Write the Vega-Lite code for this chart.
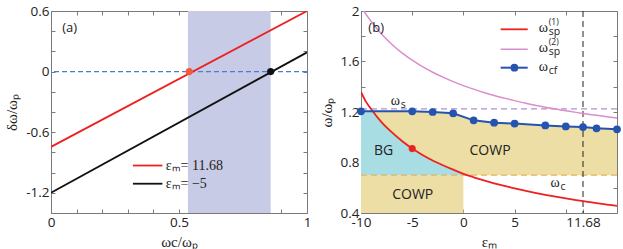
{
"$schema":"https://vega.github.io/schema/vega-lite/v6.json",
"background":"white",
"padding":{"left":4,"top":3,"right":0,"bottom":0},
"spacing":6,
"config":{
 "view":{"stroke":"#7a7a7a","strokeWidth":1},
 "axis":{"domain":false,"grid":false,"tickColor":"#7a7a7a","tickSize":-4,"tickCount":50,"labelOverlap":false,"labelFlush":false,"labelFont":"Open Sans","labelFontSize":13.5,"labelColor":"#222","labelPadding":6,"titleFont":"Liberation Serif","titleFontSize":15,"titleFontWeight":"normal","titleColor":"#222","titlePadding":6}
},
"hconcat":[
{
 "width":256,"height":202,
 "layer":[
  {"layer":[
   {"data":{"values":[{"x":0.535,"x2":0.858}]},"mark":{"type":"rect","color":"#c8cbe6"},
    "encoding":{"x":{"field":"x","type":"quantitative","scale":{"domain":[0,1],"nice":false},
      "axis":{"values":[0,0.1,0.2,0.3,0.4,0.5,0.6,0.7,0.8,0.9,1],"tickCount":50,"labelOverlap":false,"labelFlush":false,"labelExpr":"(datum.value == 0 || datum.value == 0.5 || datum.value == 1) ? format(datum.value, '~g') : ''","title":"ωc/ωₚ"}},
     "x2":{"field":"x2"}}},
   {"data":{"values":[{"y":0}]},"mark":{"type":"rule","color":"#4a7fd0","strokeDash":[5,3],"strokeWidth":1.2},
    "encoding":{"y":{"field":"y","type":"quantitative"}}},
   {"data":{"values":[{"x":0,"y":-0.745,"s":"r"},{"x":1,"y":0.6,"s":"r"},{"x":0,"y":-1.2,"s":"k"},{"x":1,"y":0.19,"s":"k"}]},
    "mark":{"type":"line","strokeWidth":1.8,"clip":true},
    "encoding":{"x":{"field":"x","type":"quantitative"},
     "y":{"field":"y","type":"quantitative","scale":{"domain":[-1.4,0.6],"nice":false},
      "axis":{"values":[-1.4,-1.2,-1,-0.8,-0.6,-0.4,-0.2,0,0.2,0.4,0.6],"tickCount":50,"labelOverlap":false,"labelExpr":"(datum.value == -1.2 || datum.value == -0.6 || datum.value == 0 || datum.value == 0.6) ? replace(format(datum.value, '~g'), '−', '-') : ''","title":"δω/ωₚ"}},
     "color":{"field":"s","type":"nominal","scale":{"domain":["r","k"],"range":["#ee2020","#111111"]},"legend":null}}},
   {"data":{"values":[{"x":0.54,"y":0}]},"mark":{"type":"point","filled":true,"size":50,"opacity":1,"color":"#f25a38"},
    "encoding":{"x":{"field":"x","type":"quantitative"},"y":{"field":"y","type":"quantitative"}}},
   {"data":{"values":[{"x":0.858,"y":0}]},"mark":{"type":"point","filled":true,"size":50,"opacity":1,"color":"#111111"},
    "encoding":{"x":{"field":"x","type":"quantitative"},"y":{"field":"y","type":"quantitative"}}},
   {"data":{"values":[{"x":0.32,"x2":0.435,"y":-0.93}]},"mark":{"type":"rule","color":"#ee2020","strokeWidth":1.8},
    "encoding":{"x":{"field":"x","type":"quantitative"},"x2":{"field":"x2"},"y":{"field":"y","type":"quantitative"}}},
   {"data":{"values":[{"x":0.32,"x2":0.435,"y":-1.11}]},"mark":{"type":"rule","color":"#111111","strokeWidth":1.8},
    "encoding":{"x":{"field":"x","type":"quantitative"},"x2":{"field":"x2"},"y":{"field":"y","type":"quantitative"}}},
   {"data":{"values":[{"x":0.448,"y":-0.93,"t":"εₘ= 11.68"},{"x":0.448,"y":-1.11,"t":"εₘ= −5"}]},
    "mark":{"type":"text","align":"left","baseline":"middle","font":"Liberation Serif","fontSize":14,"color":"#222"},
    "encoding":{"x":{"field":"x","type":"quantitative"},"y":{"field":"y","type":"quantitative"},"text":{"field":"t"}}},
   {"data":{"values":[{"x":0.044,"y":0.436,"t":"(a)"}]},
    "mark":{"type":"text","align":"left","baseline":"middle","font":"Open Sans","fontSize":13,"color":"#222"},
    "encoding":{"x":{"field":"x","type":"quantitative"},"y":{"field":"y","type":"quantitative"},"text":{"field":"t"}}}
  ]},
  {"data":{"values":[{"x":0,"y":0}]},"mark":{"type":"point","opacity":0},
   "encoding":{"x":{"field":"x","type":"quantitative","axis":{"orient":"top","values":[0,0.1,0.2,0.3,0.4,0.5,0.6,0.7,0.8,0.9,1],"tickCount":50,"labels":false,"title":null}},
    "y":{"field":"y","type":"quantitative","axis":{"orient":"right","values":[-1.4,-1.2,-1,-0.8,-0.6,-0.4,-0.2,0,0.2,0.4,0.6],"tickCount":50,"labels":false,"title":null}}}}
 ],
 "resolve":{"axis":{"x":"independent","y":"independent"}}
},
{
 "width":256,"height":202,
 "layer":[
  {"layer":[
   {"data":{"values":[{"x":-10,"x2":0,"y":0.4,"y2":0.7}]},"mark":{"type":"rect","color":"#ecdea4"},
    "encoding":{"x":{"field":"x","type":"quantitative","scale":{"domain":[-10,15],"nice":false},
      "axis":{"values":[-10,-5,0,5,10,11.68,15],"tickCount":50,"labelOverlap":false,"labelFlush":false,"labelExpr":"(datum.value == -10 || datum.value == -5 || datum.value == 0 || datum.value == 5 || datum.value == 11.68) ? replace(format(datum.value, '~g'), '−', '-') : ''","title":"εₘ"}},
     "x2":{"field":"x2"},
     "y":{"field":"y","type":"quantitative","scale":{"domain":[0.4,2],"nice":false},
      "axis":{"values":[0.4,0.6,0.8,1,1.2,1.4,1.6,1.8,2],"tickCount":50,"labelOverlap":false,"labelExpr":"(datum.value == 0.4 || datum.value == 0.8 || datum.value == 1.2 || datum.value == 1.6 || datum.value == 2) ? format(datum.value, '~g') : ''","title":"ω/ωₚ"}},
     "y2":{"field":"y2"}}},
   {"data":{"values":[{"x":-10,"y":1.205},{"x":-5,"y":1.205},{"x":-3,"y":1.2},{"x":-1,"y":1.19},{"x":1,"y":1.134},{"x":3,"y":1.115},{"x":5,"y":1.108},{"x":8,"y":1.094},{"x":10,"y":1.086},{"x":11.68,"y":1.081},{"x":13,"y":1.071},{"x":15,"y":1.063}]},
    "mark":{"type":"area","color":"#ecdea4","opacity":1},
    "encoding":{"x":{"field":"x","type":"quantitative"},"y":{"field":"y","type":"quantitative"},"y2":{"datum":0.7}}},
   {"data":{"values":[{"x":-10,"y":1.205},{"x":-8.86,"y":1.2},{"x":-8,"y":1.12},{"x":-7,"y":1.04},{"x":-6,"y":0.97},{"x":-5,"y":0.91},{"x":-4,"y":0.86},{"x":-3,"y":0.816},{"x":-2,"y":0.778},{"x":-1,"y":0.743},{"x":0,"y":0.71}]},
    "mark":{"type":"area","color":"#a8dde4","opacity":1,"interpolate":"monotone"},
    "encoding":{"x":{"field":"x","type":"quantitative"},"y":{"field":"y","type":"quantitative"},"y2":{"datum":0.7}}},
   {"data":{"values":[{"y":1.225}]},"mark":{"type":"rule","color":"#b090d0","strokeDash":[6,4],"strokeWidth":1.2},
    "encoding":{"y":{"field":"y","type":"quantitative"}}},
   {"data":{"values":[{"y":0.7}]},"mark":{"type":"rule","color":"#e8b45a","strokeDash":[6,4],"strokeWidth":1.2},
    "encoding":{"y":{"field":"y","type":"quantitative"}}},
   {"data":{"values":[{"x":11.68}]},"mark":{"type":"rule","color":"#222222","strokeDash":[6,4],"strokeWidth":1},
    "encoding":{"x":{"field":"x","type":"quantitative"}}},
   {"data":{"values":[{"x":-10,"y":2.03},{"x":-9,"y":1.917},{"x":-8,"y":1.818},{"x":-7,"y":1.737},{"x":-6,"y":1.668},{"x":-5,"y":1.61},{"x":-4,"y":1.559},{"x":-3,"y":1.515},{"x":-2,"y":1.476},{"x":-1,"y":1.441},{"x":0,"y":1.409},{"x":1,"y":1.381},{"x":2,"y":1.355},{"x":3,"y":1.331},{"x":4,"y":1.31},{"x":5,"y":1.29},{"x":6,"y":1.271},{"x":7,"y":1.254},{"x":8,"y":1.238},{"x":9,"y":1.223},{"x":10,"y":1.21},{"x":11,"y":1.197},{"x":12,"y":1.185},{"x":13,"y":1.174},{"x":14,"y":1.163},{"x":15,"y":1.153}]},
    "mark":{"type":"line","color":"#dc8ccc","strokeWidth":1.5,"interpolate":"monotone","clip":true},
    "encoding":{"x":{"field":"x","type":"quantitative"},"y":{"field":"y","type":"quantitative"}}},
   {"data":{"values":[{"x":-10,"y":1.36},{"x":-9.5,"y":1.28},{"x":-9,"y":1.222},{"x":-8,"y":1.12},{"x":-7,"y":1.04},{"x":-6,"y":0.97},{"x":-5,"y":0.91},{"x":-4,"y":0.86},{"x":-3,"y":0.816},{"x":-2,"y":0.778},{"x":-1,"y":0.743},{"x":0,"y":0.71},{"x":1,"y":0.683},{"x":2,"y":0.658},{"x":3,"y":0.635},{"x":4,"y":0.614},{"x":5,"y":0.595},{"x":6,"y":0.577},{"x":7,"y":0.56},{"x":8,"y":0.544},{"x":9,"y":0.529},{"x":10,"y":0.515},{"x":11,"y":0.502},{"x":12,"y":0.49},{"x":13,"y":0.478},{"x":14,"y":0.467},{"x":15,"y":0.456}]},
    "mark":{"type":"line","color":"#ee2020","strokeWidth":1.8,"interpolate":"monotone","clip":true},
    "encoding":{"x":{"field":"x","type":"quantitative"},"y":{"field":"y","type":"quantitative"}}},
   {"data":{"values":[{"x":-10,"y":1.205},{"x":-5,"y":1.205},{"x":-3,"y":1.2},{"x":-1,"y":1.19},{"x":1,"y":1.134},{"x":3,"y":1.115},{"x":5,"y":1.108},{"x":8,"y":1.094},{"x":10,"y":1.086},{"x":11.68,"y":1.081},{"x":13,"y":1.071},{"x":15,"y":1.063}]},
    "mark":{"type":"line","color":"#2553b0","strokeWidth":2,"point":{"filled":true,"size":60,"color":"#2553b0","opacity":1}},
    "encoding":{"x":{"field":"x","type":"quantitative"},"y":{"field":"y","type":"quantitative"}}},
   {"data":{"values":[{"x":-5,"y":0.91}]},"mark":{"type":"point","filled":true,"size":50,"opacity":1,"color":"#ee2020"},
    "encoding":{"x":{"field":"x","type":"quantitative"},"y":{"field":"y","type":"quantitative"}}},
   {"data":{"values":[{"x":-7.8,"y":0.89,"t":"BG"},{"x":2.6,"y":0.89,"t":"COWP"},{"x":-4.95,"y":0.54,"t":"COWP"}]},
    "mark":{"type":"text","align":"center","baseline":"middle","font":"Open Sans","fontSize":14,"color":"#222"},
    "encoding":{"x":{"field":"x","type":"quantitative"},"y":{"field":"y","type":"quantitative"},"text":{"field":"t"}}},
   {"data":{"values":[{"x":-9.28,"y":1.868,"t":"(b)"}]},
    "mark":{"type":"text","align":"left","baseline":"middle","font":"Open Sans","fontSize":13,"color":"#222"},
    "encoding":{"x":{"field":"x","type":"quantitative"},"y":{"field":"y","type":"quantitative"},"text":{"field":"t"}}},
   {"data":{"values":[{"x":-7.1,"y":1.285,"t":"ω"},{"x":8.5,"y":0.635,"t":"ω"},{"x":7.36,"y":1.862,"t":"ω"},{"x":7.36,"y":1.705,"t":"ω"},{"x":7.36,"y":1.56,"t":"ω"}]},
    "mark":{"type":"text","align":"left","baseline":"middle","font":"Liberation Serif","fontSize":14,"color":"#222"},
    "encoding":{"x":{"field":"x","type":"quantitative"},"y":{"field":"y","type":"quantitative"},"text":{"field":"t"}}},
   {"data":{"values":[{"x":-7.1,"y":1.285,"t":"s"},{"x":8.5,"y":0.635,"t":"c"},{"x":7.36,"y":1.862,"t":"sp"},{"x":7.36,"y":1.705,"t":"sp"},{"x":7.36,"y":1.56,"t":"cf"}]},
    "mark":{"type":"text","align":"left","baseline":"middle","font":"Open Sans","fontSize":10.5,"color":"#222","dx":10,"dy":4},
    "encoding":{"x":{"field":"x","type":"quantitative"},"y":{"field":"y","type":"quantitative"},"text":{"field":"t"}}},
   {"data":{"values":[{"x":7.36,"y":1.862,"t":"(1)"},{"x":7.36,"y":1.705,"t":"(2)"}]},
    "mark":{"type":"text","align":"left","baseline":"middle","font":"Open Sans","fontSize":8.5,"color":"#222","dx":10,"dy":-6},
    "encoding":{"x":{"field":"x","type":"quantitative"},"y":{"field":"y","type":"quantitative"},"text":{"field":"t"}}},
   {"data":{"values":[{"x":3.64,"x2":6.28,"y":1.855}]},"mark":{"type":"rule","color":"#ee2020","strokeWidth":1.8},
    "encoding":{"x":{"field":"x","type":"quantitative"},"x2":{"field":"x2"},"y":{"field":"y","type":"quantitative"}}},
   {"data":{"values":[{"x":3.64,"x2":6.28,"y":1.697}]},"mark":{"type":"rule","color":"#dc8ccc","strokeWidth":1.5},
    "encoding":{"x":{"field":"x","type":"quantitative"},"x2":{"field":"x2"},"y":{"field":"y","type":"quantitative"}}},
   {"data":{"values":[{"x":3.64,"x2":6.28,"y":1.551}]},"mark":{"type":"rule","color":"#2553b0","strokeWidth":2},
    "encoding":{"x":{"field":"x","type":"quantitative"},"x2":{"field":"x2"},"y":{"field":"y","type":"quantitative"}}},
   {"data":{"values":[{"x":4.98,"y":1.551}]},"mark":{"type":"point","filled":true,"size":60,"opacity":1,"color":"#2553b0"},
    "encoding":{"x":{"field":"x","type":"quantitative"},"y":{"field":"y","type":"quantitative"}}}
  ]},
  {"data":{"values":[{"x":0,"y":1}]},"mark":{"type":"point","opacity":0},
   "encoding":{"x":{"field":"x","type":"quantitative","axis":{"orient":"top","values":[-10,-5,0,5,10,15],"tickCount":50,"labels":false,"title":null}},
    "y":{"field":"y","type":"quantitative","axis":{"orient":"right","values":[0.4,0.6,0.8,1,1.2,1.4,1.6,1.8,2],"tickCount":50,"labels":false,"title":null}}}}
 ],
 "resolve":{"axis":{"x":"independent","y":"independent"}}
}
]
}
